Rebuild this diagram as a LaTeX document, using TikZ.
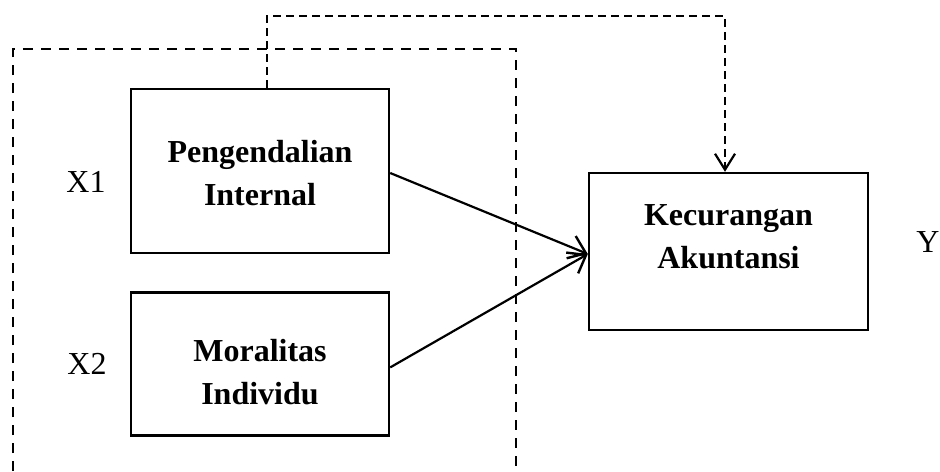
\documentclass[tikz,border=0pt]{standalone}
\usepackage{fontspec}
\setmainfont{Liberation Serif}
\usetikzlibrary{arrows.meta,positioning}

\begin{document}
\begin{tikzpicture}[
  x=0.5pt, y=-0.5pt,
  node distance=18.5pt and 12pt,
  box/.style={draw, line width=1.2pt, minimum width=129pt, minimum height=82pt},
  boxtext/.style={align=center, font=\fontsize{16}{21.5}\selectfont\bfseries},
  lbl/.style={font=\fontsize{16}{19}\selectfont},
  arrow/.style={-{Straight Barb[length=8pt, width=12pt, line width=1.2pt]}, line width=1.1pt},
  dasharrow/.style={-{Straight Barb[length=8pt, width=10pt, line width=1.1pt]}, line width=1pt, dash pattern=on 4pt off 2.5pt}
]
  \useasboundingbox (0,0) rectangle (940,471);
  % independent variables
  \node[box] (peng) at (260,171) {};
  \node[box, below=of peng, minimum height=71.5pt] (moral) {};
  % dependent variable
  \node[box, minimum width=139.5pt, minimum height=78.5pt] (kecur) at (728.5,251.5) {};
  \node[boxtext] (pengtxt) at ([yshift=-1.25pt]peng.center) {Pengendalian\\Internal};
  \node[boxtext] (moraltxt) at ([yshift=-4pt]moral.center) {Moralitas\\Individu};
  \node[boxtext] (kecurtxt) at ([yshift=7.5pt]kecur.center) {Kecurangan\\Akuntansi};
  \node[lbl] (x1) at (86,182) {X1};
  \node[lbl] (x2) at (87,364) {X2};
  \node[lbl] (y) at (928,242) {Y};
  \coordinate (topline) at (600,16);
  % simultaneous frame
  \draw[line width=1.4pt, dash pattern=on 5pt off 4pt] (13,471) -- (13,49) -- (516,49) -- (516,471);
  \draw[arrow] ([yshift=-1pt]peng.east) -- ([yshift=-1.25pt]kecur.west);
  \draw[arrow] ([yshift=-1.75pt]moral.east) -- ([yshift=-1.25pt]kecur.west);
  \draw[dasharrow] ([xshift=3.5pt]peng.north) |- (topline) -| ([xshift=-1.75pt]kecur.north);
\end{tikzpicture}
\end{document}
